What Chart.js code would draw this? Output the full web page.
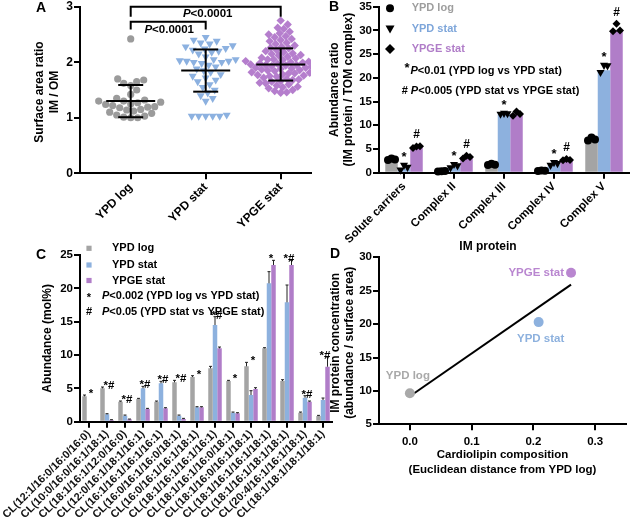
<!DOCTYPE html>
<html>
<head>
<meta charset="utf-8">
<script src="https://cdn.jsdelivr.net/npm/chart.js@4.4.1/dist/chart.umd.min.js"></script>
<style>
  html, body { margin: 0; padding: 0; background: #fff; }
  #page { position: relative; width: 631px; height: 529px; overflow: hidden; }
  canvas { position: absolute; }
</style>
</head>
<body>
<div id="page">
  <canvas id="chartA" width="320" height="245" style="left:0;top:0"></canvas>
  <canvas id="chartB" width="316" height="252" style="left:315px;top:0"></canvas>
  <canvas id="chartC" width="335" height="289" style="left:0;top:240px"></canvas>
  <canvas id="chartD" width="311" height="284" style="left:320px;top:245px"></canvas>
</div>
<script>
const FONT = '"Liberation Sans", Arial, sans-serif';
const GRAY = '#a4a4a4';
const BLUE = '#8db1de';
const PURPLE = '#b07dc8';

// Panel A - surface area ratio IM / OM per cell
const groupsA = ['YPD log', 'YPD stat', 'YPGE stat'];
const ypdLogRatio = [2.42, 1.70, 1.68, 1.65, 1.62, 1.58, 1.50, 1.42, 1.35, 1.32, 1.30, 1.30, 1.28, 1.27, 1.25,
    1.24, 1.22, 1.20, 1.19, 1.18, 1.15, 1.14, 1.12, 1.10, 1.08, 1.05, 1.03, 1.01, 1.00, 1.00];
const ypdStatRatio = [2.45, 2.40, 2.38, 2.35, 2.33, 2.30, 2.28, 2.25, 2.24, 2.22, 2.20, 2.18, 2.15, 2.10, 2.05,
    2.05, 2.03, 2.02, 2.02, 2.00, 2.00, 1.98, 1.95, 1.92, 1.88, 1.85, 1.82, 1.78, 1.75, 1.72, 1.68, 1.65, 1.60,
    1.55, 1.50, 1.45, 1.40, 1.35, 1.30, 1.05, 1.03, 1.03, 1.03, 1.03, 1.03];
const ypgeStatRatio = [2.75, 2.68, 2.62, 2.60, 2.55, 2.52, 2.50, 2.47, 2.45, 2.42, 2.40, 2.38, 2.35, 2.33, 2.30,
    2.28, 2.26, 2.25, 2.22, 2.20, 2.18, 2.16, 2.15, 2.13, 2.12, 2.10, 2.08, 2.07, 2.05, 2.04, 2.02, 2.01, 2.00,
    1.99, 1.98, 1.97, 1.96, 1.95, 1.94, 1.93, 1.92, 1.90, 1.89, 1.88, 1.87, 1.86, 1.85, 1.84, 1.82, 1.81, 1.80,
    1.78, 1.77, 1.76, 1.75, 1.74, 1.72, 1.70, 1.69, 1.68, 1.66, 1.65, 1.63, 1.62, 1.60, 1.58, 1.56, 1.55, 1.53,
    1.50, 1.48, 1.46, 1.45, 1.80, 1.95, 2.00, 2.05, 1.90];
const meanA = [1.30, 1.85, 1.96];
const sdA = [0.29, 0.38, 0.29];

// Panel B - IM protein abundance ratio
const catsB = ['Solute carriers', 'Complex II', 'Complex III', 'Complex IV', 'Complex V'];
const logB = [2.8, 0.3, 1.7, 0.4, 7.0];
const statB = [0.9, 1.3, 12.3, 1.7, 21.6];
const ypgeB = [5.4, 3.3, 12.4, 2.75, 30.1];
const logRepB = [[2.7, 3.0, 2.8], [0.25, 0.3, 0.35], [1.6, 1.9, 1.7], [0.35, 0.45, 0.4], [6.8, 7.4, 7.0]];
const statRepB = [[0.4, 1.4, 1.0], [0.9, 1.6, 1.3], [12.2, 12.4, 12.3], [1.4, 2.0, 1.8], [21.0, 22.5, 22.4]];
const ypgeRepB = [[5.2, 5.5, 5.6], [3.0, 3.6, 3.3], [12.0, 12.9, 12.4], [2.6, 2.9, 2.7], [29.8, 31.4, 30.0]];
const starB = ['*', '*', '*', '*', '*'];
const hashB = ['#', '#', '', '#', '#'];

// Panel C - cardiolipin species (mol%)
const lipidsC = ['CL(12:1/16:0/16:0/16:0)', 'CL(10:0/16:0/16:1/18:1)', 'CL(18:1/16:1/12:0/16:0)',
    'CL(12:0/16:1/18:1/16:1)', 'CL(16:1/16:1/16:1/16:1)', 'CL(16:0/16:1/16:0/18:1)', 'CL(16:0/16:1/16:1/18:1)',
    'CL(18:1/16:1/16:1/16:1)', 'CL(18:1/16:1/16:0/18:1)', 'CL(18:1/16:0/16:1/18:1)', 'CL(18:1/16:1/16:1/18:1)',
    'CL(18:1/16:1/18:1/18:1)', 'CL(20:4/16:1/16:1/18:1)', 'CL(18:1/18:1/18:1/18:1)'];
const logC = [3.8, 5.0, 3.0, 3.4, 3.0, 5.9, 6.7, 8.0, 6.1, 8.3, 11.0, 6.1, 1.35, 0.85];
const statC = [0, 1.1, 0.9, 5.0, 5.75, 0.9, 2.15, 14.5, 1.35, 4.0, 20.75, 17.9, 3.6, 3.25];
const ypgeC = [0, 0.25, 0.35, 1.9, 2.0, 0.4, 2.15, 11.0, 1.25, 4.9, 23.5, 23.5, 3.0, 8.25];
const logErrC = [0.2, 0.2, 0.1, 0.1, 0.1, 0.3, 0.2, 0.3, 0.1, 0.6, 0.1, 0.2, 0.1, 0.1];
const statErrC = [0, 0.1, 0.1, 0.3, 0.3, 0.1, 0.1, 1.25, 0.1, 0.65, 1.75, 2.6, 0.3, 0.3];
const ypgeErrC = [0, 0.05, 0.05, 0.1, 0.1, 0.1, 0.1, 0.2, 0.1, 0.2, 0.7, 0.7, 0.1, 1.45];
const marksC = ['*', '*#', '*#', '*#', '*#', '*#', '*', '*#', '*', '*', '*', '*#', '*#', '*#'];

// Panel D - IM protein concentration vs cardiolipin composition
const groupsD = ['YPD log', 'YPD stat', 'YPGE stat'];
const clDistance = [0, 0.2085, 0.261];
const imConcentration = [9.65, 20.3, 27.7];

// ---------- helpers ----------
function line(ctx, x1, y1, x2, y2) {
    ctx.beginPath();
    ctx.moveTo(x1, y1);
    ctx.lineTo(x2, y2);
    ctx.stroke();
}

function txt(ctx, s, x, y, o = {}) {
    ctx.save();
    ctx.font = `${o.italic ? 'italic ' : ''}bold ${o.size || 11}px ${FONT}`;
    ctx.fillStyle = o.color || '#000';
    ctx.textAlign = o.align || 'left';
    ctx.textBaseline = o.base || 'middle';
    ctx.translate(x, y);
    if (o.rot) ctx.rotate(o.rot);
    ctx.fillText(s, 0, 0);
    ctx.restore();
}

// text made of pieces, some in italics (the P of P values)
function rich(ctx, segs, x, y, o = {}) {
    const size = o.size || 11;
    const fontOf = s => `${s.italic ? 'italic ' : ''}bold ${size}px ${FONT}`;
    let total = 0;
    segs.forEach(s => { ctx.font = fontOf(s); total += ctx.measureText(s.t).width; });
    let cx = o.align === 'center' ? x - total / 2 : x;
    ctx.save();
    ctx.fillStyle = o.color || '#000';
    ctx.textBaseline = 'middle';
    ctx.textAlign = 'left';
    segs.forEach(s => {
        ctx.font = fontOf(s);
        ctx.fillText(s.t, cx, y);
        cx += ctx.measureText(s.t).width;
    });
    ctx.restore();
}

function marker(ctx, style, x, y, r, color) {
    ctx.save();
    ctx.fillStyle = color;
    ctx.beginPath();
    if (style === 'circle') {
        ctx.arc(x, y, r, 0, Math.PI * 2);
    } else if (style === 'tri') {
        ctx.moveTo(x - r, y - r * 0.8);
        ctx.lineTo(x + r, y - r * 0.8);
        ctx.lineTo(x, y + r);
    } else if (style === 'diamond') {
        ctx.moveTo(x, y - r);
        ctx.lineTo(x + r, y);
        ctx.lineTo(x, y + r);
        ctx.lineTo(x - r, y);
    } else {
        ctx.rect(x - r, y - r, r * 2, r * 2);
    }
    ctx.closePath();
    ctx.fill();
    ctx.restore();
}

// spread the dots of one group sideways so they do not overlap
function swarm(values, center, pxPerX, pxPerY, diam) {
    const placed = [];
    return [...values].sort((a, b) => a - b).map(v => {
        const py = v * pxPerY;
        let off = 0;
        for (let k = 0; k < 400; k++) {
            const cand = k === 0 ? 0 : (k % 2 ? (k + 1) / 2 : -k / 2);
            const ok = placed.every(p => (p.x - cand) ** 2 + (p.y - py) ** 2 >= diam * diam);
            if (ok) { off = cand; break; }
        }
        placed.push({ x: off, y: py });
        return { x: center + off / pxPerX, y: v };
    });
}

const fixWidth = w => scale => { scale.width = w; scale.paddingTop = 0; scale.paddingBottom = 0; };
const fixHeight = h => scale => { scale.height = h; scale.paddingLeft = 0; scale.paddingRight = 0; };

function axisGrid() {
    return { display: true, drawOnChartArea: false, drawTicks: true, tickLength: 6, color: '#000', lineWidth: 2 };
}
function axisBorder() {
    return { display: true, color: '#000', width: 2 };
}
function tickFont(size) {
    return { family: FONT, size: size, weight: 'bold' };
}

Chart.defaults.font.family = FONT;
Chart.defaults.animation = false;
Chart.defaults.responsive = false;
Chart.defaults.devicePixelRatio = 1;
Chart.defaults.plugins.legend.display = false;
Chart.defaults.plugins.tooltip.enabled = false;

// ---------- Panel A ----------
const panelAPlugin = {
    id: 'panelA',
    afterDatasetsDraw(chart) {
        const { ctx, scales: { x, y } } = chart;
        ctx.save();
        ctx.strokeStyle = '#000';
        ctx.lineWidth = 2;
        meanA.forEach((m, i) => {
            const cx = x.getPixelForValue(i + 1);
            const my = y.getPixelForValue(m);
            const lo = y.getPixelForValue(m - sdA[i]);
            const hi = y.getPixelForValue(m + sdA[i]);
            line(ctx, cx - 24.5, my, cx + 24.5, my);
            line(ctx, cx - 12.5, lo, cx + 12.5, lo);
            line(ctx, cx - 12.5, hi, cx + 12.5, hi);
            line(ctx, cx, lo, cx, hi);
        });
        const bracket = (a, b, top, foot) => {
            const xa = x.getPixelForValue(a), xb = x.getPixelForValue(b);
            const yt = y.getPixelForValue(top), yf = y.getPixelForValue(foot);
            ctx.beginPath();
            ctx.moveTo(xa, yf);
            ctx.lineTo(xa, yt);
            ctx.lineTo(xb, yt);
            ctx.lineTo(xb, yf);
            ctx.stroke();
        };
        bracket(1, 2, 2.73, 2.59);
        bracket(1, 3, 3.0, 2.82);
        ctx.restore();
        const pv = [{ t: 'P', italic: true }, { t: '<0.0001' }];
        rich(ctx, pv, (x.getPixelForValue(1) + x.getPixelForValue(2)) / 2 + 1, y.getPixelForValue(2.59), { align: 'center', size: 11.5 });
        rich(ctx, pv, (x.getPixelForValue(1) + x.getPixelForValue(3)) / 2 + 2, y.getPixelForValue(2.865), { align: 'center', size: 11.5 });

        txt(ctx, 'A', 41, 8, { size: 14, align: 'center' });
        const cy = (chart.chartArea.top + chart.chartArea.bottom) / 2 + 2;
        txt(ctx, 'Surface area ratio', 40, cy, { size: 12, align: 'center', rot: -Math.PI / 2 });
        txt(ctx, 'IM / OM', 55, cy, { size: 12, align: 'center', rot: -Math.PI / 2 });
    }
};

new Chart(document.getElementById('chartA'), {
    type: 'scatter',
    data: {
        datasets: [{
            data: swarm(ypdLogRatio, 1, 75, 55.5, 7),
            backgroundColor: '#9b9b9b',
            pointStyle: 'circle',
            pointRadius: 3.6,
            borderWidth: 0
        }, {
            data: swarm(ypdStatRatio, 2, 75, 55.5, 7),
            backgroundColor: '#8cb1e0',
            pointStyle: 'triangle',
            rotation: 180,
            pointRadius: 4.6,
            borderWidth: 0
        }, {
            data: swarm(ypgeStatRatio, 3, 75, 55.5, 5.8),
            backgroundColor: '#b57ecd',
            pointStyle: 'rectRot',
            pointRadius: 4.2,
            borderWidth: 0
        }]
    },
    options: {
        layout: { padding: { left: 0, top: 6.7, right: 9, bottom: 0 } },
        scales: {
            x: {
                type: 'linear',
                min: 0.324,
                max: 3.404,
                afterBuildTicks: axis => { axis.ticks = [1, 2, 3].map(v => ({ value: v })); },
                afterFit: fixHeight(71.7),
                grid: axisGrid(),
                border: axisBorder(),
                ticks: {
                    color: '#000',
                    font: tickFont(12),
                    minRotation: 45,
                    maxRotation: 45,
                    autoSkip: false,
                    padding: 1,
                    callback: v => groupsA[v - 1]
                }
            },
            y: {
                min: 0,
                max: 3,
                afterFit: fixWidth(80),
                grid: axisGrid(),
                border: axisBorder(),
                ticks: { color: '#000', font: tickFont(12), stepSize: 1, padding: 1 }
            }
        }
    },
    plugins: [panelAPlugin]
});

// ---------- Panel B ----------
const panelBPlugin = {
    id: 'panelB',
    afterDatasetsDraw(chart) {
        const { ctx, scales: { y } } = chart;
        const reps = [logRepB, statRepB, ypgeRepB];
        const styles = ['circle', 'tri', 'diamond'];
        reps.forEach((rep, d) => {
            chart.getDatasetMeta(d).data.forEach((bar, i) => {
                rep[i].forEach((v, k) => {
                    marker(ctx, styles[d], bar.x + (k - 1) * 3.5, y.getPixelForValue(v), 4, '#000');
                });
            });
        });
        chart.getDatasetMeta(1).data.forEach((bar, i) => {
            if (starB[i]) txt(ctx, starB[i], bar.x, y.getPixelForValue(Math.max(...statRepB[i])) - 5, { size: 13, align: 'center', base: 'alphabetic' });
        });
        chart.getDatasetMeta(2).data.forEach((bar, i) => {
            if (hashB[i]) txt(ctx, hashB[i], bar.x, y.getPixelForValue(Math.max(...ypgeRepB[i])) - 8, { size: 12, align: 'center', base: 'alphabetic' });
        });

        // legend
        marker(ctx, 'circle', 75, 8.3, 4, '#000');
        marker(ctx, 'tri', 75, 29, 4.5, '#000');
        marker(ctx, 'diamond', 75, 49, 5, '#000');
        txt(ctx, 'YPD log', 96.7, 8.3, { size: 11, color: '#9e9e9e' });
        txt(ctx, 'YPD stat', 96.7, 29, { size: 11, color: '#7ea6da' });
        txt(ctx, 'YPGE stat', 96.7, 49, { size: 11, color: '#b07dc8' });
        txt(ctx, '*', 92, 68, { size: 13, align: 'center' });
        rich(ctx, [{ t: 'P', italic: true }, { t: '<0.01 (YPD log vs YPD stat)' }], 95.5, 70.5, { size: 11 });
        rich(ctx, [{ t: '# ' }, { t: 'P', italic: true }, { t: '<0.005 (YPD stat vs YPGE stat)' }], 86.7, 90.5, { size: 11 });

        txt(ctx, 'B', 19, 7.5, { size: 14, align: 'center' });
        const cy = (chart.chartArea.top + chart.chartArea.bottom) / 2;
        txt(ctx, 'Abundance ratio', 20, cy, { size: 12, align: 'center', rot: -Math.PI / 2 });
        txt(ctx, '(IM protein / TOM complex)', 34, cy, { size: 12, align: 'center', rot: -Math.PI / 2 });
        txt(ctx, 'IM protein', 173, 247, { size: 12, align: 'center' });
    }
};

function barSet(values, color) {
    return { data: values, backgroundColor: color, borderWidth: 0, categoryPercentage: 0.75, barPercentage: 1.0 };
}

new Chart(document.getElementById('chartB'), {
    type: 'bar',
    data: {
        labels: catsB,
        datasets: [barSet(logB, GRAY), barSet(statB, BLUE), barSet(ypgeB, PURPLE)]
    },
    options: {
        layout: { padding: { left: 0, top: 6.7, right: 2, bottom: 0 } },
        scales: {
            x: {
                afterFit: fixHeight(79.3),
                grid: Object.assign(axisGrid(), { offset: false }),
                border: axisBorder(),
                ticks: { color: '#000', font: tickFont(11.5), minRotation: 45, maxRotation: 45, autoSkip: false, padding: 1 }
            },
            y: {
                min: 0,
                max: 35,
                afterFit: fixWidth(64),
                grid: axisGrid(),
                border: axisBorder(),
                ticks: { color: '#000', font: tickFont(11.5), stepSize: 5, padding: 1 }
            }
        }
    },
    plugins: [panelBPlugin]
});

// ---------- Panel C ----------
const panelCPlugin = {
    id: 'panelC',
    afterDatasetsDraw(chart) {
        const { ctx, scales: { y } } = chart;
        const errs = [logErrC, statErrC, ypgeErrC];
        const vals = [logC, statC, ypgeC];
        ctx.save();
        ctx.strokeStyle = '#222';
        ctx.lineWidth = 1;
        errs.forEach((err, d) => {
            chart.getDatasetMeta(d).data.forEach((bar, i) => {
                if (!err[i]) return;
                const yt = y.getPixelForValue(vals[d][i] + err[i]);
                line(ctx, bar.x, bar.y, bar.x, yt);
                line(ctx, bar.x - 1.5, yt, bar.x + 1.5, yt);
            });
        });
        ctx.restore();

        chart.getDatasetMeta(1).data.forEach((bar, i) => {
            const top = Math.max(logC[i] + logErrC[i], statC[i] + statErrC[i], ypgeC[i] + ypgeErrC[i]);
            txt(ctx, marksC[i], bar.x + 2, y.getPixelForValue(top) + 2, { size: 11.5, align: 'center', base: 'alphabetic' });
        });

        // legend
        marker(ctx, 'square', 89, 8.3, 2.6, GRAY);
        marker(ctx, 'square', 89, 25, 2.6, BLUE);
        marker(ctx, 'square', 89, 40.5, 2.6, PURPLE);
        txt(ctx, 'YPD log', 112, 8.3, { size: 11 });
        txt(ctx, 'YPD stat', 112, 25, { size: 11 });
        txt(ctx, 'YPGE stat', 112, 40.5, { size: 11 });
        txt(ctx, '*', 89, 58, { size: 11, align: 'center' });
        rich(ctx, [{ t: 'P', italic: true }, { t: '<0.002 (YPD log vs YPD stat)' }], 102, 56, { size: 11 });
        txt(ctx, '#', 89, 72, { size: 11, align: 'center' });
        rich(ctx, [{ t: 'P', italic: true }, { t: '<0.05 (YPD stat vs YPGE stat)' }], 102, 72, { size: 11 });

        txt(ctx, 'C', 41, 15, { size: 14, align: 'center' });
        const cy = (chart.chartArea.top + chart.chartArea.bottom) / 2;
        txt(ctx, 'Abundance (mol%)', 48, cy, { size: 12, align: 'center', rot: -Math.PI / 2 });
    }
};

new Chart(document.getElementById('chartC'), {
    type: 'bar',
    data: {
        labels: lipidsC,
        datasets: [barSet(logC, GRAY), barSet(statC, BLUE), barSet(ypgeC, PURPLE)]
    },
    options: {
        layout: { padding: { left: 0, top: 15, right: 3, bottom: 0 } },
        scales: {
            x: {
                afterFit: fixHeight(107.3),
                grid: Object.assign(axisGrid(), { offset: false }),
                border: axisBorder(),
                ticks: { color: '#111', font: tickFont(11), minRotation: 45, maxRotation: 45, autoSkip: false, padding: 0 }
            },
            y: {
                min: 0,
                max: 25,
                afterFit: fixWidth(80),
                grid: axisGrid(),
                border: axisBorder(),
                ticks: { color: '#000', font: tickFont(11.5), stepSize: 5, padding: 1 }
            }
        }
    },
    plugins: [panelCPlugin]
});

// ---------- Panel D ----------
// least squares line through the three conditions
const n = clDistance.length;
const mx = clDistance.reduce((a, b) => a + b, 0) / n;
const my = imConcentration.reduce((a, b) => a + b, 0) / n;
let sxy = 0, sxx = 0;
clDistance.forEach((xv, i) => { sxy += (xv - mx) * (imConcentration[i] - my); sxx += (xv - mx) ** 2; });
const slope = sxy / sxx;
const intercept = my - slope * mx;
const xFit = [Math.min(...clDistance), Math.max(...clDistance)];
const fitLine = xFit.map(xv => ({ x: xv, y: intercept + slope * xv }));

const colorsD = ['#a9a9a9', '#8db1de', '#b986d0'];
const labelOffsetD = [[-2, -17, 'center'], [2, 17, 'center'], [-7, 0, 'right']];

const panelDPlugin = {
    id: 'panelD',
    afterDatasetsDraw(chart) {
        const { ctx, scales: { x, y } } = chart;
        groupsD.forEach((g, i) => {
            const px = x.getPixelForValue(clDistance[i]);
            const py = y.getPixelForValue(imConcentration[i]);
            const [dx, dy, al] = labelOffsetD[i];
            txt(ctx, g, px + dx, py + dy, { size: 11.5, align: al, color: colorsD[i] });
        });
        txt(ctx, 'D', 15, 9, { size: 14, align: 'center' });
        const cy = (chart.chartArea.top + chart.chartArea.bottom) / 2 + 2;
        txt(ctx, 'IM protein concentration', 16, cy, { size: 12, align: 'center', rot: -Math.PI / 2 });
        txt(ctx, '(abundance / surface area)', 30, cy, { size: 12, align: 'center', rot: -Math.PI / 2 });
        const cx = (chart.chartArea.left + chart.chartArea.right) / 2;
        txt(ctx, 'Cardiolipin composition', cx, 210, { size: 11.5, align: 'center' });
        txt(ctx, '(Euclidean distance from YPD log)', cx, 225, { size: 11.5, align: 'center' });
    }
};

new Chart(document.getElementById('chartD'), {
    type: 'scatter',
    data: {
        datasets: [{
            type: 'line',
            data: fitLine,
            borderColor: '#000',
            borderWidth: 2,
            pointRadius: 0,
            fill: false,
            order: 2
        }, {
            data: clDistance.map((xv, i) => ({ x: xv, y: imConcentration[i] })),
            backgroundColor: colorsD,
            pointRadius: 5,
            borderWidth: 0,
            order: 1
        }]
    },
    options: {
        layout: { padding: { left: 0, top: 12.3, right: 1, bottom: 0 } },
        scales: {
            x: {
                type: 'linear',
                min: -0.05,
                max: 0.35,
                afterBuildTicks: axis => { axis.ticks = [0, 0.1, 0.2, 0.3].map(v => ({ value: v })); },
                afterFit: fixHeight(104.7),
                grid: axisGrid(),
                border: axisBorder(),
                ticks: { color: '#000', font: tickFont(11.5), padding: 5, callback: v => v.toFixed(1) }
            },
            y: {
                min: 5,
                max: 30,
                afterFit: fixWidth(59),
                grid: axisGrid(),
                border: axisBorder(),
                ticks: { color: '#000', font: tickFont(11.5), stepSize: 5, padding: 1 }
            }
        }
    },
    plugins: [panelDPlugin]
});
</script>
</body>
</html>
